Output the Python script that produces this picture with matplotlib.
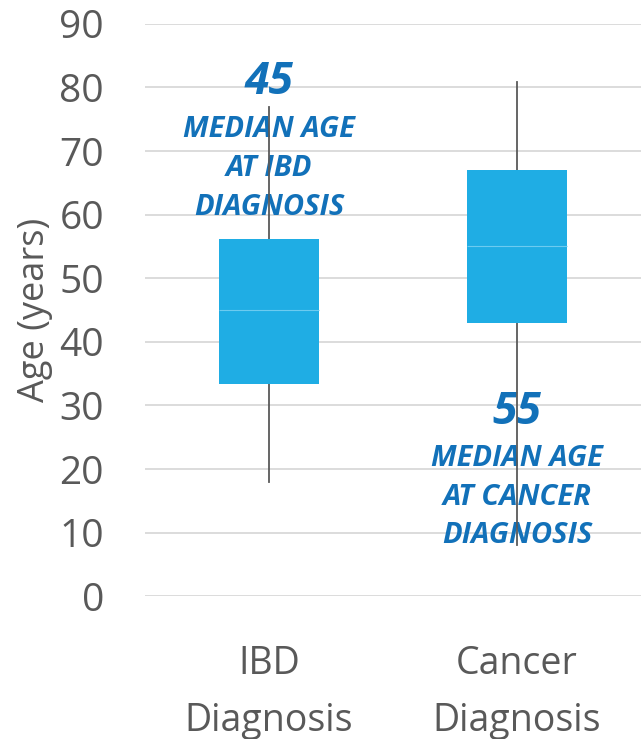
import matplotlib
matplotlib.use("Agg")
import matplotlib.pyplot as plt

# box statistics per group (years)
groups   = ["IBD\nDiagnosis", "Cancer\nDiagnosis"]
whislo   = [18.0, 8.0]
q1       = [33.3, 43.0]
med      = [45.0, 55.0]
q3       = [56.2, 67.0]
whishi   = [76.9, 80.9]
med_text = ["45", "55"]
captions = ["MEDIAN AGE\nAT IBD\nDIAGNOSIS", "MEDIAN AGE\nAT CANCER\nDIAGNOSIS"]
yticks   = list(range(0, 100, 10))

BOX   = "#1FADE4"
BLUE  = "#1271B9"
GREY  = "#595959"
FONT  = "Open Sans"

fig = plt.figure(figsize=(6.41, 7.39), dpi=100)
ax = fig.add_axes([0.2262, 0.1932, 0.7738, 0.7746])

stats = [
    dict(whislo=lo, q1=a, med=m, q3=b, whishi=hi, fliers=[], label=g)
    for lo, a, m, b, hi, g in zip(whislo, q1, med, q3, whishi, groups)
]
pos = [0.5, 1.5]
bp = ax.bxp(stats, positions=pos, widths=0.4, patch_artist=True,
            showcaps=False, showfliers=False,
            boxprops=dict(facecolor=BOX, edgecolor=BOX, linewidth=0),
            medianprops=dict(color="#6CCBF0", linewidth=0.8),
            whiskerprops=dict(color=GREY, linewidth=1.3))
for w in bp["whiskers"]:
    w.set_zorder(4)
    w.set_clip_on(False)
for b in bp["boxes"]:
    b.set_zorder(5)
for m in bp["medians"]:
    m.set_zorder(6)

ax.set_xlim(0, 2)
ax.set_ylim(0, 90)
ax.set_yticks(yticks)
ax.set_yticklabels([str(t) for t in yticks], fontfamily=FONT, fontsize=28, color=GREY)
ax.set_xticks(pos)
ax.set_xticklabels(groups, fontfamily=FONT, fontsize=27, color=GREY, linespacing=1.65)
ax.tick_params(axis="y", length=0, pad=29.5)
ax.tick_params(axis="x", length=0, pad=35)
ax.grid(axis="y", color="#D9D9D9", linewidth=1.3, zorder=0)
ax.set_axisbelow(True)
for s in ax.spines.values():
    s.set_visible(False)
ax.set_ylabel("Age (years)", fontfamily=FONT, fontsize=26, color=GREY)
ax.yaxis.set_label_coords(-0.186, 0.5)

# median callouts
num_y = [80.8, 28.9]
cap_y = [67.2, 15.6]
for x, n, c, ny, cy in zip(pos, med_text, captions, num_y, cap_y):
    ax.text(x, ny, n, ha="center", va="center", fontfamily=FONT,
            fontsize=32, fontweight="bold", fontstyle="italic", color=BLUE, zorder=3)
    ax.text(x, cy, c, ha="center", va="center", fontfamily=FONT,
            fontsize=21, fontweight="bold", fontstyle="italic", color=BLUE,
            linespacing=1.45, zorder=3)

fig.savefig("out.png", dpi=100)
